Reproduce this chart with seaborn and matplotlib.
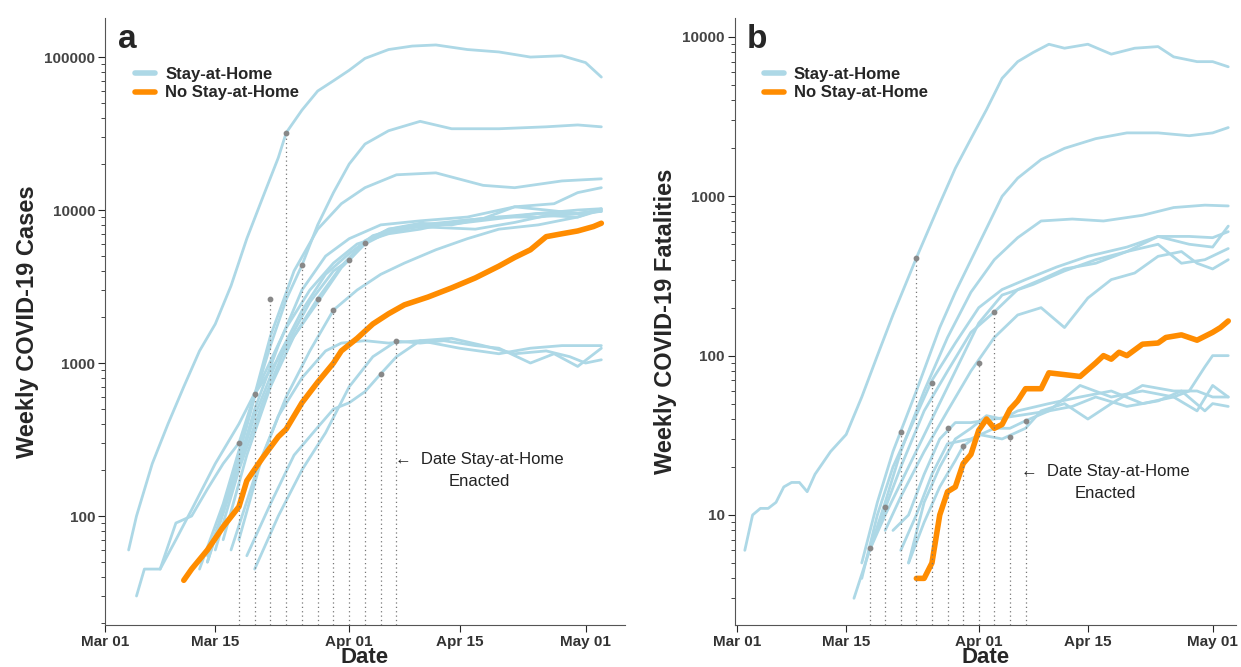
import numpy as np
import pandas as pd
import matplotlib
matplotlib.use("Agg")
import matplotlib.pyplot as plt
import seaborn as sns
from matplotlib.ticker import FixedLocator, LogLocator, NullFormatter

# x = days since Mar 01
tick_days = [0, 14, 31, 45, 61]
tick_labels = ["Mar 01", "Mar 15", "Apr 01", "Apr 15", "May 01"]

# ---- Panel a: weekly cases (stay-at-home states) ----
cases_stay = {
 "A1": ([3,4,6,8,10,12,14,16,18,20,22,23,25,27,29,31,33,36,39,42,46,50,54,58,61,63],
        [60,100,220,400,700,1200,1800,3200,6500,12000,22000,32000,45000,60000,70000,82000,98000,112000,118000,120000,112000,108000,100000,102000,92000,74000]),
 "A2": ([13,15,17,19,21,23,25,27,29,31,33,36,40,44,50,56,60,63],
        [50,110,250,600,1300,2600,4360,8000,13000,20000,27000,33000,38000,34000,34000,35000,36000,35000]),
 "A3": ([12,15,18,21,24,27,30,33,37,42,48,52,58,63],
        [45,120,400,1500,4000,7500,11000,14000,17000,17500,14500,14000,15500,16000]),
 "A4": ([13,16,19,22,25,28,31,35,40,46,52,57,60,63],
        [50,150,500,1300,3000,5000,6500,8000,8500,9000,10500,11000,13000,14000]),
 "A5": ([14,17,20,23,26,29,31,33,36,40,45,50,55,60,63],
        [60,200,550,1300,2500,4000,4700,6100,7500,8000,8500,9000,9500,9500,10000]),
 "A6": ([13,16,19,22,25,28,31,34,38,42,47,52,56,60,63],
        [55,150,450,1100,2200,3800,5200,6800,7800,7700,7500,8300,9200,9000,10200]),
 "A7": ([15,18,21,24,27,30,33,36,40,44,48,52,56,60,63],
        [70,250,700,1500,2640,4300,6300,7500,8200,8000,8800,10500,10000,9500,9800]),
 "A8": ([17,20,23,26,29,32,35,38,42,46,50,55,60,63],
        [70,250,600,1200,2220,3000,3800,4500,5500,6500,7500,8000,9000,10000]),
 "A9": ([16,19,22,25,28,30,33,36,40,45,50,54,58,61,63],
        [60,180,450,800,1200,1350,1400,1350,1400,1250,1150,1250,1300,1300,1300]),
 "A10": ([18,21,24,27,29,31,33,35,37,40,44,48,52,56,59,61,63],
         [55,120,250,380,500,550,650,850,1100,1400,1450,1300,1150,1200,1100,1000,1050]),
 "A11": ([19,22,25,28,31,34,37,40,43,47,50,54,57,60,63],
         [45,100,200,350,700,1100,1390,1350,1400,1300,1250,1000,1150,950,1250]),
 "A12": ([7,9,11,13,15,17,19,21,24,27,30,33,36,40,45,50,55,60,63],
         [45,90,100,150,220,300,626,900,1500,2500,4200,6000,7200,7800,8200,8800,9500,10000,10200]),
 "A13": ([4,5,7,9,11,14,17,20,23,26,29,32,36,40,45,50,55,60,63],
         [30,45,45,70,110,220,400,800,1700,3000,4500,6000,7000,7500,8500,9000,9000,9500,9800]),
}
cases_nostay_days = [10,11,13,15,17,18,20,22,23,25,27,29,30,32,34,36,38,41,44,47,50,52,54,56,58,60,62,63]
cases_nostay_vals = [38,45,60,85,115,170,240,330,370,550,750,1000,1200,1450,1800,2100,2400,2700,3100,3600,4300,4900,5500,6700,7000,7300,7800,8200]
cases_dot_days = [17,19,21,23,25,27,29,31,33,35,37]
cases_dot_vals = [300,626,2640,32000,4360,2640,2220,4700,6100,850,1390]

# ---- Panel b: weekly fatalities ----
fat_stay = {
 "B1": ([1,2,3,4,5,6,7,8,9,10,12,14,16,18,20,23,26,28,30,32,34,36,38,40,42,45,48,51,54,56,59,61,63],
        [6,10,11,11,12,15,16,16,14,18,25,32,55,100,180,410,900,1500,2300,3500,5500,7000,8000,9000,8500,9000,7800,8500,8700,7500,7000,7000,6500]),
 "B2": ([16,18,20,23,26,28,31,34,36,39,42,46,50,54,58,61,63],
        [5,12,25,60,150,250,500,1000,1300,1700,2000,2300,2500,2500,2400,2500,2700]),
 "B3": ([17,19,21,24,27,30,33,36,39,43,47,52,56,60,63],
        [6,12,25,60,130,250,400,550,700,720,700,760,850,880,870]),
 "B4": ([16,18,20,22,25,28,31,34,37,41,45,50,54,58,61,63],
        [4,10,20,33,70,120,200,260,300,360,420,480,560,500,480,650]),
 "B5": ([17,19,21,24,27,30,33,36,39,42,46,50,54,58,61,63],
        [6,11,20,45,80,140,188,260,300,350,380,450,560,560,550,600]),
 "B6": ([15,17,19,22,25,28,31,34,38,42,46,50,54,57,60,63],
        [3,6,10,20,40,80,160,240,280,340,400,450,500,380,400,470]),
 "B7": ([19,21,24,27,30,33,36,39,42,45,48,51,54,57,59,61,63],
        [8,13,25,45,80,130,180,200,150,230,300,330,420,450,380,350,400]),
 "B8": ([22,24,26,28,30,32,34,36,40,44,48,52,56,58,60,61,63],
        [5,12,20,30,35,42,40,45,50,55,60,50,55,60,85,100,100]),
 "B9": ([20,22,24,26,28,30,33,36,40,44,48,52,56,59,61,63],
        [8,10,18,30,38,38,40,42,45,65,55,60,55,45,65,55]),
 "B10": ([21,23,25,27,30,33,35,37,40,43,46,50,54,57,60,61,63],
         [6,10,18,28,30,35,35,39,45,48,55,48,52,60,45,50,48]),
 "B11": ([22,24,26,28,29,31,34,37,39,42,45,48,52,56,59,61,63],
         [5,9,15,22,27,32,30,35,45,50,40,50,65,60,60,55,55]),
}
fat_nostay_days = [23,24,25,26,27,28,29,30,31,32,33,34,35,36,37,39,40,42,44,46,47,48,49,50,52,54,55,57,59,61,62,63]
fat_nostay_vals = [4,4,5,10,14,15,21,24,34,40,35,37,46,52,62,62,78,76,74,90,100,95,105,100,118,120,130,135,125,140,150,165]
fat_dot_days = [17,19,21,23,25,27,29,31,33,35,37]
fat_dot_vals = [6.2,11.2,33,410,67,35,27,90,188,31,39]

BLUE = "#add8e6"
ORANGE = "#ff8c00"

sns.set_style("white")
plt.rcParams['font.family'] = ['Liberation Sans', 'DejaVu Sans']

fig = plt.figure(figsize=(12.41, 6.67), dpi=100)
axa = fig.add_axes([0.0846, 0.063, 0.419, 0.91])
axb = fig.add_axes([0.592, 0.063, 0.404, 0.91])

def draw(ax, stay, nd, nv, dd, dv, ylim, xlim, ylabel, yticks, letter, note_xy):
    for k, (d, v) in stay.items():
        df = pd.DataFrame({"d": d, "v": v})
        sns.lineplot(data=df, x="d", y="v", ax=ax, color=BLUE, lw=2, estimator=None, legend=False)
    df = pd.DataFrame({"d": nd, "v": nv})
    sns.lineplot(data=df, x="d", y="v", ax=ax, color=ORANGE, lw=4, estimator=None, legend=False)
    ax.set_yscale("log")
    ax.set_ylim(*ylim)
    ax.set_xlim(*xlim)
    ax.vlines(dd, ylim[0], dv, colors="#777777", linestyles=(0, (1, 2.5)), lw=0.9)
    ax.scatter(dd, dv, s=10, color="#888888", zorder=5)
    for s in ["top", "right"]:
        ax.spines[s].set_visible(False)
    for s in ["left", "bottom"]:
        ax.spines[s].set_color("#555555")
    ax.set_xticks(tick_days)
    ax.set_xticklabels(tick_labels, fontsize=11, fontweight="bold", color="#333333")
    ax.yaxis.set_major_locator(FixedLocator(yticks))
    ax.set_yticklabels([str(t) for t in yticks], fontsize=11, fontweight="bold", color="#444444")
    ax.yaxis.set_minor_locator(LogLocator(base=10, subs=np.arange(2, 10)))
    ax.yaxis.set_minor_formatter(NullFormatter())
    ax.tick_params(axis="both", which="major", direction="out", length=5, left=True, bottom=True, pad=2)
    ax.tick_params(axis="y", which="minor", direction="out", length=3, left=True)
    ax.set_xlabel("Date", fontsize=16, fontweight="bold", labelpad=-1)
    ax.set_ylabel(ylabel, fontsize=17, fontweight="bold")
    ax.text(0.025, 0.99, letter, transform=ax.transAxes, fontsize=24, fontweight="bold", va="top")
    ax.text(note_xy[0], note_xy[1], "←  Date Stay-at-Home\nEnacted", transform=ax.transAxes,
            fontsize=12, ha="center", va="center", color="#222222", linespacing=1.6)
    ax.plot([], [], color=BLUE, lw=4, label="Stay-at-Home")
    ax.plot([], [], color=ORANGE, lw=4, label="No Stay-at-Home")
    leg = ax.legend(loc="upper left", bbox_to_anchor=(0.045, 0.93), frameon=False,
              prop={"weight": "bold", "size": 12}, handlelength=1.2, borderaxespad=0,
              handletextpad=0.6, labelspacing=0.2)

draw(axa, cases_stay, cases_nostay_days, cases_nostay_vals, cases_dot_days, cases_dot_vals,
     (19.4, 1.8e5), (0, 66), "Weekly COVID-19 Cases", [100, 1000, 10000, 100000], "a", (0.72, 0.255))
draw(axb, fat_stay, fat_nostay_days, fat_nostay_vals, fat_dot_days, fat_dot_vals,
     (2.04, 13150), (-0.3, 64), "Weekly COVID-19 Fatalities", [10, 100, 1000, 10000], "b", (0.74, 0.235))

fig.savefig("out.png", dpi=100)
